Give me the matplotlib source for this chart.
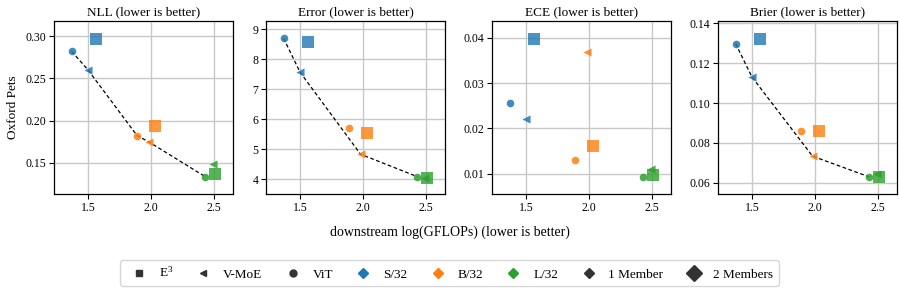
import matplotlib
matplotlib.use("Agg")
import matplotlib.pyplot as plt
from matplotlib.lines import Line2D

plt.rcParams['font.family'] = ['Liberation Serif', 'DejaVu Serif']
plt.rcParams['font.size'] = 8
plt.rcParams['mathtext.fontset'] = 'stix'

# ---- data ----
sizes = ["S/32", "B/32", "L/32"]
colors = ["#1f77b4", "#ff7f0e", "#2ca02c"]

vit_x = [1.37, 1.89, 2.43]
vmoe_x = [1.50, 1.98, 2.49]
e3_x = [1.56, 2.03, 2.51]

titles = ["NLL (lower is better)", "Error (lower is better)",
          "ECE (lower is better)", "Brier (lower is better)"]

nll_vit = [0.282, 0.182, 0.1335]
nll_vmoe = [0.260, 0.175, 0.148]
nll_e3 = [0.297, 0.193, 0.137]

err_vit = [8.70, 5.69, 4.08]
err_vmoe = [7.57, 4.83, 4.05]
err_e3 = [8.57, 5.53, 4.05]

ece_vit = [0.0257, 0.0129, 0.0093]
ece_vmoe = [0.0221, 0.0368, 0.0110]
ece_e3 = [0.0398, 0.0160, 0.0096]

bri_vit = [0.1298, 0.0857, 0.0629]
bri_vmoe = [0.1130, 0.0733, 0.0642]
bri_e3 = [0.1323, 0.0859, 0.0630]

# pareto line points: sequence of (model, size index)
nll_front = [("vit", 0), ("vmoe", 0), ("vit", 1), ("vmoe", 1), ("vit", 2)]
err_front = [("vit", 0), ("vmoe", 0), ("vmoe", 1), ("vit", 2)]
ece_front = []
bri_front = [("vit", 0), ("vmoe", 0), ("vmoe", 1), ("vit", 2)]

yticks = [[0.15, 0.20, 0.25, 0.30], [4, 5, 6, 7, 8, 9],
          [0.01, 0.02, 0.03, 0.04], [0.06, 0.08, 0.10, 0.12, 0.14]]
ytick_fmt = ["%.2f", "%d", "%.2f", "%.2f"]
ylims = [(0.113, 0.318), (3.5, 9.28), (0.0055, 0.0437), (0.0543, 0.1412)]
xticks = [1.5, 2.0, 2.5]

panels = [
    (nll_vit, nll_vmoe, nll_e3, nll_front),
    (err_vit, err_vmoe, err_e3, err_front),
    (ece_vit, ece_vmoe, ece_e3, ece_front),
    (bri_vit, bri_vmoe, bri_e3, bri_front),
]

W, H = 899, 290
fig = plt.figure(figsize=(W / 100, H / 100), dpi=100)
lefts = [54, 266, 492, 718]
aw = 179
top_px, bot_px = 21, 194

for i, (vit, vmoe, e3, front) in enumerate(panels):
    ax = fig.add_axes([lefts[i] / W, (H - bot_px) / H, aw / W, (bot_px - top_px) / H])
    ax.set_axisbelow(True)
    ax.grid(True, color="#c8c8c8", linewidth=1.0)
    xs = {"vit": vit_x, "vmoe": vmoe_x, "e3": e3_x}
    ys = {"vit": vit, "vmoe": vmoe, "e3": e3}
    if front:
        fx = [xs[m][k] for m, k in front]
        fy = [ys[m][k] for m, k in front]
        ax.plot(fx, fy, linestyle=(0, (3, 2)), color="black", linewidth=0.9, zorder=2)
    for k in range(3):
        ax.scatter(vit_x[k], vit[k], marker="o", s=30, color=colors[k], alpha=0.85,
                   linewidths=0, zorder=3)
        ax.scatter(vmoe_x[k], vmoe[k], marker="<", s=34, color=colors[k], alpha=0.85,
                   linewidths=0, zorder=3)
        ax.scatter(e3_x[k], e3[k], marker="s", s=70, color=colors[k], alpha=0.8,
                   linewidths=0, zorder=3)
    ax.set_xlim(1.23, 2.65)
    ax.set_ylim(*ylims[i])
    ax.set_xticks(xticks)
    ax.set_xticklabels(["%.1f" % t for t in xticks])
    ax.set_yticks(yticks[i])
    ax.set_yticklabels([ytick_fmt[i] % t for t in yticks[i]])
    ax.tick_params(labelsize=8.5, length=3.5, width=0.8, pad=2)
    for sp in ax.spines.values():
        sp.set_linewidth(0.9)
    ax.set_title(titles[i], fontsize=9.5, pad=4)
    if i == 0:
        ax.set_ylabel("Oxford Pets", fontsize=9.5, labelpad=5)

fig.text(0.5, (H - 232) / H, "downstream log(GFLOPs) (lower is better)",
         ha="center", va="center", fontsize=10)

dark = "#333333"
handles = [
    Line2D([], [], linestyle="none", marker="s", color=dark, markersize=4.5),
    Line2D([], [], linestyle="none", marker="<", color=dark, markersize=5),
    Line2D([], [], linestyle="none", marker="o", color=dark, markersize=5),
    Line2D([], [], linestyle="none", marker="D", color=colors[0], markersize=5),
    Line2D([], [], linestyle="none", marker="D", color=colors[1], markersize=5),
    Line2D([], [], linestyle="none", marker="D", color=colors[2], markersize=5),
    Line2D([], [], linestyle="none", marker="D", color=dark, markersize=5),
    Line2D([], [], linestyle="none", marker="D", color=dark, markersize=8),
]
labels = ["E$^{\\mathregular{3}}$", "V-MoE", "ViT", "S/32", "B/32", "L/32", "1 Member", "2 Members"]
fig.legend(handles, labels, loc="center", bbox_to_anchor=(0.5, (H - 273) / H),
           ncol=8, fontsize=9.5, frameon=True, fancybox=True, edgecolor="#cccccc",
           handletextpad=0.5, columnspacing=1.3, borderpad=0.4)

fig.savefig("out.png", dpi=100)
